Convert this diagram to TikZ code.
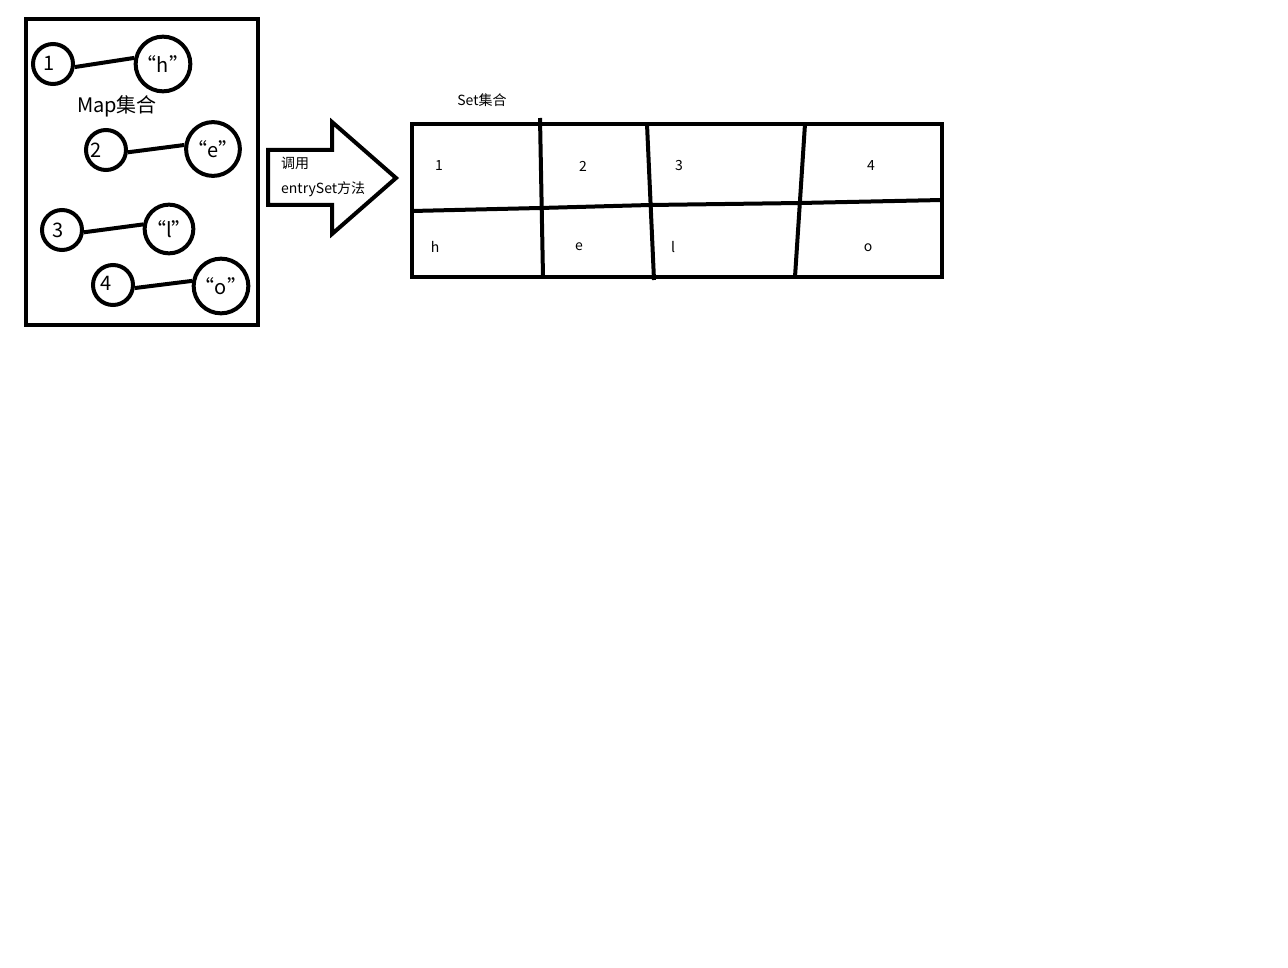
\documentclass[tikz,border=0pt]{standalone}
\usepackage{fontspec}
\setmainfont{Noto Sans CJK SC}

\begin{document}
\begin{tikzpicture}[x=1pt,y=-1pt,
  keycirc/.style={circle,draw=black,line width=4pt,minimum size=40pt,inner sep=0pt},
  valcirc/.style={circle,draw=black,line width=4pt,minimum size=46pt,inner sep=0pt,font=\fontsize{20}{24}\selectfont},
  bigtxt/.style={inner sep=0pt,font=\fontsize{20}{24}\selectfont},
  smalltxt/.style={inner sep=0pt,font=\fontsize{14}{17}\selectfont},
  fat/.style={line width=4pt}]
\useasboundingbox (0,0) rectangle (1288,968);

% Map box
\draw[fat](26,19) rectangle (258,325);
\node[keycirc](k1) at(53,64){};
\node[valcirc](v1) at(163,64){“h”};
\node[keycirc](k2) at(106,150){};
\node[valcirc](v2) at(213,149){“e”};
\node[keycirc](k3) at(62,230){};
\node[valcirc](v3) at(169,229){“l”};
\node[keycirc](k4) at(113,285){};
\node[valcirc](v4) at(221,286){“o”};
\node[bigtxt](t1) at(49,63){1};
\node[bigtxt](t2) at(96,150){2};
\node[bigtxt](t3) at(58,230){3};
\node[bigtxt](t4) at(106,283){4};
\draw[fat](k1.-8)--(v1.168);
\draw[fat](k2.-6)--(v2.172);
\draw[fat](k3.-6)--(v3.170);
\draw[fat](k4.-8)--(v4.170);
\node[bigtxt](map) at(117,106){Map集合};

% arrow
\draw[fat,line join=miter](268,150)--(332,150)--(332,122)--(396,178)--(332,234)--(332,205)--(268,205)--cycle;
\node[smalltxt,anchor=west](call) at(281,163){调用};
\node[smalltxt,anchor=west](entry) at(281,189){entrySet方法};

% Set table
\node[smalltxt](set) at(482,100){Set集合};
\draw[fat](412,124) rectangle (942,277);
\draw[fat](412,211)--(540,208)--(650,205)--(800,203)--(942,200);
\draw[fat](540,118)--(543,277);
\draw[fat](647,124)--(654,280);
\draw[fat](805,124)--(795,277);
\node[smalltxt](s1) at(439,166){1};
\node[smalltxt](s2) at(583,166){2};
\node[smalltxt](s3) at(679,166){3};
\node[smalltxt](s4) at(871,166){4};
\node[smalltxt](sh) at(435,247){h};
\node[smalltxt](se) at(579,247){e};
\node[smalltxt](sl) at(673,247){l};
\node[smalltxt](so) at(868,248){o};
\end{tikzpicture}
\end{document}
